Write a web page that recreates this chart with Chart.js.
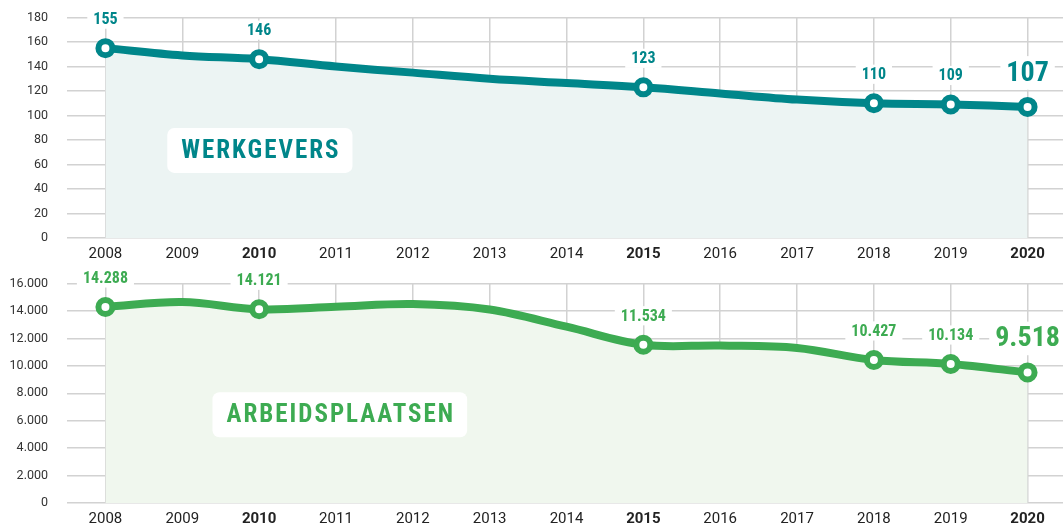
<!DOCTYPE html>
<html>
<head>
<meta charset="utf-8">
<script src="https://cdn.jsdelivr.net/npm/chart.js@4.4.1/dist/chart.umd.min.js"></script>
<style>
  html, body { margin: 0; padding: 0; background: #fff; overflow: hidden; }
  .panel { position: absolute; left: 0; width: 1066px; }
  #top { top: -9px; height: 279px; }
  #bottom { top: 257px; height: 278px; }
</style>
</head>
<body>
<div class="panel" id="top"><canvas id="werkgeversChart"></canvas></div>
<div class="panel" id="bottom"><canvas id="arbeidsChart"></canvas></div>
<script>
/* ---- data ---- */
const years = ['2008', '2009', '2010', '2011', '2012', '2013', '2014', '2015', '2016', '2017', '2018', '2019', '2020'];
const werkgevers = [155, 149, 146, 140, 135, 130, 126.5, 123, 118, 113, 110, 109, 107];
const arbeidsplaatsen = [14288, 14650, 14121, 14300, 14500, 14100, 12850, 11534, 11480, 11300, 10427, 10134, 9518];
const markedYears = ['2008', '2010', '2015', '2018', '2019', '2020'];
const boldYears = ['2010', '2015', '2020'];
const highlightYear = '2020';
const seriesTitles = ['WERKGEVERS', 'ARBEIDSPLAATSEN'];

const TEAL = '#00868a';
const GREEN = '#3dab52';
const GRID = '#d2d2d2';
const NARROW = '"Liberation Sans Narrow", "Roboto Condensed", Roboto, sans-serif';

const fmtNum = v => String(v).replace(/\B(?=(\d{3})+(?!\d))/g, '.');

// value labels with white backing + title box
const labelPlugin = {
  id: 'valueLabels',
  afterDatasetsDraw(chart, args, opts) {
    const ctx = chart.ctx;
    const meta = chart.getDatasetMeta(0);
    const values = chart.data.datasets[0].data;
    ctx.save();
    ctx.textAlign = 'center';
    ctx.textBaseline = 'middle';
    years.forEach((yr, i) => {
      if (!markedYears.includes(yr)) return;
      const pt = meta.data[i];
      const big = yr === highlightYear;
      const size = big ? 28 : 16;
      const lift = big ? 34 : 29;
      const txt = fmtNum(values[i]);
      ctx.font = `bold ${size}px ${NARROW}`;
      const w = ctx.measureText(txt).width;
      const y = pt.y - lift;
      ctx.fillStyle = '#fff';
      ctx.fillRect(pt.x - w / 2 - 6, y - size * 0.6, w + 12, size * 1.2);
      ctx.fillStyle = opts.color;
      ctx.fillText(txt, pt.x, y + 1);
    });

    // title box
    const xs = chart.scales.x, ys = chart.scales.y;
    const cx = xs.getPixelForValue(opts.titleAt[0]);
    const cy = ys.getPixelForValue(opts.titleAt[1]);
    ctx.font = `bold 25px ${NARROW}`;
    ctx.letterSpacing = '2px';
    const tw = ctx.measureText(opts.title).width;
    const bw = tw + 26, bh = 45;
    ctx.fillStyle = '#fff';
    ctx.beginPath();
    ctx.roundRect(cx - bw / 2, cy - bh / 2, bw, bh, 7);
    ctx.fill();
    ctx.fillStyle = opts.color;
    ctx.fillText(opts.title, cx + 1, cy + 1);
    ctx.restore();
  }
};

function makeChart(id, values, cfg) {
  return new Chart(document.getElementById(id), {
    type: 'line',
    data: {
      labels: years,
      datasets: [{
        data: values,
        borderColor: cfg.color,
        backgroundColor: cfg.fill,
        borderWidth: 8,
        tension: 0.35,
        fill: 'origin',
        pointRadius: c => markedYears.includes(years[c.dataIndex]) ? 7 : 0,
        pointBorderWidth: 6,
        pointBorderColor: cfg.color,
        pointBackgroundColor: '#fff',
        clip: false
      }]
    },
    options: {
      responsive: true,
      maintainAspectRatio: false,
      animation: false,
      events: [],
      layout: { autoPadding: false, padding: { top: 18, bottom: 0, right: 0, left: 0 } },
      plugins: {
        legend: { display: false },
        tooltip: { enabled: false },
        valueLabels: { color: cfg.color, title: cfg.title, titleAt: cfg.titleAt }
      },
      scales: {
        x: {
          offset: true,
          border: { display: false },
          grid: { color: GRID, lineWidth: 1.5, drawTicks: false, offset: false },
          ticks: {
            padding: 7,
            color: '#222',
            autoSkip: false,
            maxRotation: 0,
            font: c => ({
              family: 'Roboto, sans-serif',
              size: 15,
              weight: boldYears.includes(years[c.index]) ? 'bold' : 'normal'
            })
          }
        },
        y: {
          min: 0,
          max: cfg.max,
          border: { display: false },
          afterFit: s => { s.width = 67; },
          grid: { color: GRID, lineWidth: 1.5, drawTicks: false },
          ticks: {
            stepSize: cfg.step,
            padding: 19,
            color: '#333',
            font: { family: 'Roboto, sans-serif', size: 12.5 },
            callback: v => (v % cfg.labelEvery === 0 ? fmtNum(v) : '')
          }
        }
      }
    },
    plugins: [labelPlugin]
  });
}

Dashboard = {
  top: makeChart('werkgeversChart', werkgevers, {
    color: TEAL, fill: '#ecf4f3', max: 180, step: 20, labelEvery: 20,
    title: seriesTitles[0], titleAt: [2.01, 71.5]
  }),
  bottom: makeChart('arbeidsChart', arbeidsplaatsen, {
    color: GREEN, fill: '#f0f7ee', max: 16000, step: 1000, labelEvery: 2000,
    title: seriesTitles[1], titleAt: [3.05, 6430]
  })
};
</script>
</body>
</html>
